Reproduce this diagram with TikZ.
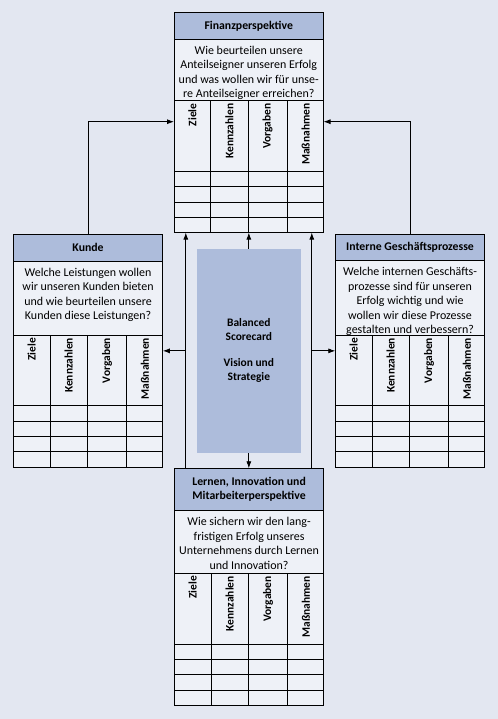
\documentclass[tikz,border=0pt]{standalone}
\usepackage{fontspec}
\setmainfont{Carlito}
\usepackage{tikz}
\usetikzlibrary{arrows.meta,positioning}
\definecolor{grund}{HTML}{E3E7F1}
\definecolor{blau}{HTML}{ADBCDB}
\definecolor{feld}{HTML}{EEF1F7}
\newcommand{\Karte}[7]{%
  \node[kopf, minimum height=#4, anchor=north west] (#1) at (#2,#3) {#6};
  \node[frage, minimum height=#5, anchor=north] (#1-frage) at (#1.south) {};
  \node[fragetext, below=6bp of #1-frage.north] {#7};
  \node[spalten, anchor=north] (#1-spalten) at (#1-frage.south) {};
  \node[zeilen, anchor=north] (#1-zeilen) at (#1-spalten.south) {};
  \foreach \d in {36.7,74,113.3}
    \draw ([xshift=\d bp]#1-spalten.north west) -- ([xshift=\d bp]#1-zeilen.south west);
  \foreach \r in {1,2,3}
    \draw ([yshift=-\r*15.3bp]#1-zeilen.north west) -- ([yshift=-\r*15.3bp]#1-zeilen.north east);
  \foreach \t/\m in {Ziele/18.35,Kennzahlen/55.35,Vorgaben/93.65,Maßnahmen/131.65}
    \node[spalte] at ([xshift=\m bp, yshift=-2.5bp]#1-spalten.north west) {\t};
}

\begin{document}
\begin{tikzpicture}[x=1bp, y=-1bp, line width=0.8bp,
  kopf/.style={draw, fill=blau, outer sep=0pt, inner sep=0pt, minimum width=149.5bp,
    align=center, font=\bfseries\fontsize{11.8}{14.5}\selectfont},
  frage/.style={draw, fill=feld, outer sep=0pt, inner sep=0pt, minimum width=149.5bp},
  fragetext/.style={inner sep=0pt, align=center, font=\fontsize{12}{14.7}\selectfont},
  spalten/.style={draw, fill=feld, outer sep=0pt, inner sep=0pt, minimum width=149.5bp, minimum height=70.7bp},
  zeilen/.style={draw, fill=feld, outer sep=0pt, inner sep=0pt, minimum width=149.5bp, minimum height=61.2bp},
  spalte/.style={rotate=90, anchor=east, inner sep=0pt, font=\bfseries\fontsize{11.5}{12}\selectfont},
  mitte/.style={fill=blau, inner sep=0pt, minimum width=104.3bp, minimum height=203.7bp,
    align=center, font=\bfseries\fontsize{11.5}{14}\selectfont},
  pfeil/.style={-{Latex[length=7bp,width=5bp]}}]

\fill[grund] (0,0) rectangle (498,719);
\useasboundingbox (0,0) rectangle (498,719);

\Karte{finanz}{174}{12.5}{26.8bp}{61.4bp}{Finanzperspektive}{Wie beurteilen unsere\\Anteilseigner unseren Erfolg\\und was wollen wir für unse-\\re Anteilseigner erreichen?}
\Karte{kunde}{13.3}{234}{27.3bp}{73.7bp}{Kunde}{Welche Leistungen wollen\\wir unseren Kunden bieten\\und wie beurteilen unsere\\Kunden diese Leistungen?}
\Karte{prozess}{335.3}{234}{26.7bp}{74.3bp}{Interne Geschäftsprozesse}{Welche internen Geschäfts-\\prozesse sind für unseren\\Erfolg wichtig und wie\\wollen wir diese Prozesse\\gestalten und verbessern?}
\Karte{lernen}{174.3}{468.3}{42.4bp}{62.6bp}{Lernen, Innovation und\\Mitarbeiterperspektive}{Wie sichern wir den lang-\\fristigen Erfolg unseres\\Unternehmens durch Lernen\\und Innovation?}

\node[mitte] (bsc) at (248.85,350.85) {Balanced\\Scorecard\\[12bp]Vision und\\Strategie};

\draw[pfeil] (kunde.north) |- ([yshift=-21bp]finanz-spalten.north west);
\draw[pfeil] (prozess.north) |- ([yshift=-21bp]finanz-spalten.north east);
\draw[pfeil] (bsc.north) -- (bsc.north |- finanz-zeilen.south);
\draw[pfeil] (bsc.south) -- (bsc.south |- lernen.north);
\coordinate (links) at ([xshift=11.5bp]lernen.north west);
\coordinate (rechts) at ([xshift=-12bp]lernen.north east);
\draw[pfeil] (links) -- (links |- finanz-zeilen.south);
\draw[pfeil] (rechts) -- (rechts |- finanz-zeilen.south);
\draw[pfeil] (links |- bsc.west) -- (bsc.west -| kunde-spalten.east);
\draw[pfeil] (rechts |- bsc.east) -- (bsc.east -| prozess-spalten.west);

\end{tikzpicture}
\end{document}
